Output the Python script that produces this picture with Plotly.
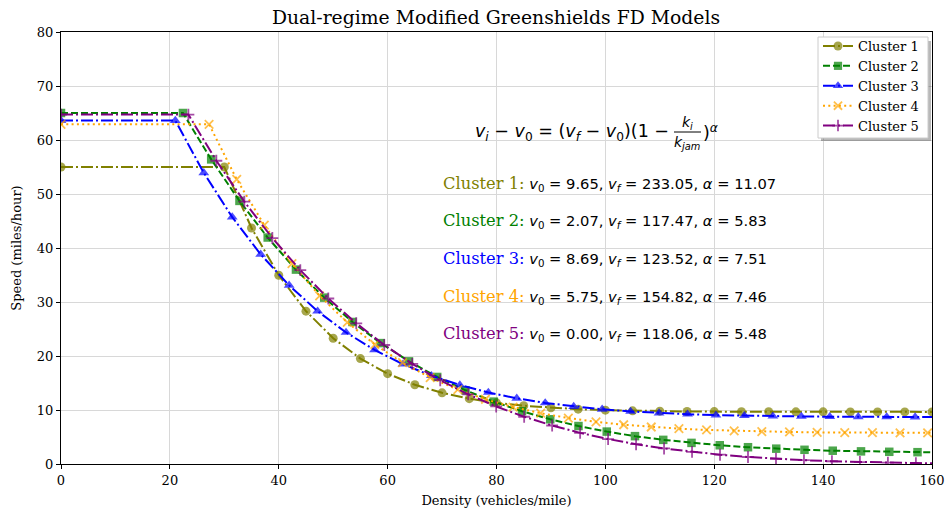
import plotly.graph_objects as go

# ---------------- data ----------------
cluster_names = ["Cluster 1", "Cluster 2", "Cluster 3", "Cluster 4", "Cluster 5"]

c1_density = [0, 30, 35, 40, 45, 50, 55, 60, 65, 70, 75, 80, 85, 90, 95, 100,
              105, 110, 115, 120, 125, 130, 135, 140, 145, 150, 155, 160]
c1_speed = [55.0, 55.0, 43.70, 34.96, 28.31, 23.29, 19.52, 16.73, 14.67, 13.18, 12.10,
            11.33, 10.79, 10.41, 10.15, 9.97, 9.85, 9.78, 9.73, 9.70, 9.68, 9.67,
            9.66, 9.66, 9.65, 9.65, 9.65, 9.65]

c2_density = [0, 22.4, 27.59, 32.78, 37.97, 43.16, 48.35, 53.54, 58.73, 63.92, 69.11,
              74.30, 79.49, 84.68, 89.87, 95.06, 100.25, 105.44, 110.63, 115.82, 121.01,
              126.20, 131.39, 136.58, 141.77, 146.96, 152.15, 157.34, 160]
c2_speed = [65.0, 65.0, 56.41, 48.72, 41.94, 36.00, 30.81, 26.30, 22.39, 19.01, 16.12,
            13.65, 11.55, 9.77, 8.28, 7.03, 6.00, 5.16, 4.47, 3.91, 3.47, 3.11, 2.84,
            2.63, 2.46, 2.34, 2.26, 2.19, 2.17]

c3_density = [0, 21.0, 26.23, 31.45, 36.68, 41.91, 47.14, 52.36, 57.59, 62.82, 68.04,
              73.27, 78.50, 83.72, 88.95, 94.18, 99.41, 104.63, 109.86, 115.09, 120.31,
              125.54, 130.77, 136.00, 141.22, 146.45, 151.68, 156.90, 160]
c3_speed = [63.6, 63.6, 53.92, 45.72, 38.82, 33.08, 28.30, 24.36, 21.13, 18.49, 16.35,
            14.63, 13.25, 12.16, 11.30, 10.64, 10.12, 9.73, 9.44, 9.22, 9.05, 8.94, 8.86,
            8.80, 8.76, 8.73, 8.71, 8.70, 8.70]

c4_density = [0, 27.2, 32.28, 37.35, 42.43, 47.51, 52.59, 57.66, 62.74, 67.82, 72.89,
              77.97, 83.05, 88.12, 93.20, 98.28, 103.36, 108.43, 113.51, 118.59, 123.66,
              128.74, 133.82, 138.90, 143.97, 149.05, 154.13, 159.20, 160]
c4_speed = [62.9, 62.9, 52.70, 44.24, 37.12, 31.15, 26.21, 22.13, 18.76, 16.01, 13.78,
            11.99, 10.55, 9.41, 8.51, 7.81, 7.27, 6.85, 6.54, 6.31, 6.14, 6.01, 5.93,
            5.86, 5.82, 5.80, 5.78, 5.77, 5.77]

c5_density = [0, 23.4, 28.54, 33.68, 38.82, 43.96, 49.10, 54.24, 59.38, 64.52, 69.66,
              74.80, 79.94, 85.08, 90.22, 95.36, 100.50, 105.64, 110.78, 115.92, 121.06,
              126.20, 131.34, 136.48, 141.62, 146.76, 151.90, 157.04, 160]
c5_speed = [64.7, 64.7, 56.16, 48.57, 41.84, 35.90, 30.65, 26.06, 22.04, 18.55, 15.52,
            12.91, 10.66, 8.75, 7.13, 5.76, 4.62, 3.67, 2.88, 2.24, 1.72, 1.30, 0.97,
            0.71, 0.51, 0.36, 0.25, 0.17, 0.13]

param_v0 = ["9.65", "2.07", "8.69", "5.75", "0.00"]
param_vf = ["233.05", "117.47", "123.52", "154.82", "118.06"]
param_alpha = ["11.07", "5.83", "7.51", "7.46", "5.48"]

x_ticks = [0, 20, 40, 60, 80, 100, 120, 140, 160]
y_ticks = [0, 10, 20, 30, 40, 50, 60, 70, 80]

# ---------------- styling ----------------
colors = ["#808000", "#008000", "#0000FF", "#FFA500", "#800080"]
dashes = ["12px,3px,2px,3px", "7px,3px", "12px,3px,2px,3px", "2px,3.3px", "12px,3px,2px,3px"]
symbols = ["circle", "square", "triangle-up", "x-thin-open", "cross-thin-open"]
msizes = [9, 8.5, 9.5, 8.5, 8.5]
# clusters whose final point (at 160) is only a line end, not a marker
unmarked_end = [False, True, True, True, True]

densities = [c1_density, c2_density, c3_density, c4_density, c5_density]
speeds = [c1_speed, c2_speed, c3_speed, c4_speed, c5_speed]

W, H = 949, 514
L, R, T, B = 61, 17, 32, 50
pw, ph = W - L - R, H - T - B


def px(xw):  # window pixel -> paper x
    return (xw - L) / pw


def py(yw):  # window pixel -> paper y
    return (H - B - yw) / ph


fig = go.Figure()
for i in range(5):
    n = len(densities[i])
    sizes = [msizes[i]] * n
    if unmarked_end[i]:
        sizes[-1] = 0
    thin = symbols[i].endswith("thin-open")
    fig.add_trace(go.Scatter(
        x=densities[i], y=speeds[i], name=cluster_names[i],
        mode="lines+markers",
        line=dict(color=colors[i], width=2, dash=dashes[i]),
        marker=dict(symbol=symbols[i], size=sizes, color=colors[i],
                    line=dict(color=colors[i], width=1.8 if thin else 0)),
    ))

serif = "DejaVu Serif"
sans = "DejaVu Sans"

fig.update_layout(
    width=W, height=H,
    margin=dict(l=L, r=R, t=T, b=B, autoexpand=False),
    paper_bgcolor="white", plot_bgcolor="white",
    title=dict(text="Dual-regime Modified Greenshields FD Models",
               font=dict(family=serif, size=18.8, color="black"),
               x=px(496), xref="paper", xanchor="center",
               y=1 - 17 / H, yref="container", yanchor="middle"),
    xaxis=dict(range=[0, 160], tickvals=x_ticks, ticktext=[str(v) for v in x_ticks],
               showgrid=True, gridcolor="#d8d8d8", gridwidth=1,
               showline=True, linecolor="black", linewidth=1, mirror=True,
               ticks="outside", ticklen=4, tickcolor="black",
               tickfont=dict(family=serif, size=13, color="black"),
               title=dict(text="Density (vehicles/mile)", standoff=9,
                          font=dict(family=serif, size=13, color="black")),
               zeroline=False, automargin=False),
    yaxis=dict(range=[0, 80], tickvals=y_ticks, ticktext=[str(v) for v in y_ticks],
               showgrid=True, gridcolor="#d8d8d8", gridwidth=1,
               showline=True, linecolor="black", linewidth=1, mirror=True,
               ticks="outside", ticklen=4, tickcolor="black",
               tickfont=dict(family=serif, size=13, color="black"),
               title=dict(text="Speed (miles/hour)", standoff=12,
                          font=dict(family=serif, size=13, color="black")),
               zeroline=False, automargin=False),
    legend=dict(x=px(818), xanchor="left", y=py(31), yanchor="top",
                bgcolor="rgba(0,0,0,0)", borderwidth=0,
                font=dict(family=serif, size=13, color="black"),
                itemwidth=30, tracegroupgap=0),
    showlegend=True,
)

# legend frame with a soft shadow (drawn as shapes under the legend entries)
fig.add_shape(type="rect", xref="paper", yref="paper", layer="above",
              x0=px(821), x1=px(931), y0=py(41), y1=py(141),
              line=dict(width=0), fillcolor="rgba(0,0,0,0.28)")
fig.add_shape(type="rect", xref="paper", yref="paper", layer="above",
              x0=px(818), x1=px(928), y0=py(37), y1=py(138),
              line=dict(color="#cccccc", width=1), fillcolor="white")

# equation
eq_font = dict(family=sans, size=17.5, color="black")
fig.add_annotation(xref="paper", yref="paper", x=px(671), y=py(132),
                   xanchor="right", yanchor="middle", showarrow=False,
                   text="<i>v<sub>i</sub></i> − <i>v</i><sub>0</sub> = (<i>v<sub>f</sub></i> − <i>v</i><sub>0</sub>)(1 −",
                   font=eq_font)
fig.add_annotation(xref="paper", yref="paper", x=px(687), y=py(123),
                   xanchor="center", yanchor="middle", showarrow=False,
                   text="<i>k<sub>i</sub></i>", font=dict(family=sans, size=14, color="black"))
fig.add_annotation(xref="paper", yref="paper", x=px(687), y=py(143),
                   xanchor="center", yanchor="middle", showarrow=False,
                   text="<i>k<sub>jam</sub></i>", font=dict(family=sans, size=14, color="black"))
fig.add_shape(type="line", xref="paper", yref="paper",
              x0=px(674), x1=px(701), y0=py(132), y1=py(132),
              line=dict(color="black", width=1))
fig.add_annotation(xref="paper", yref="paper", x=px(701), y=py(132),
                   xanchor="left", yanchor="middle", showarrow=False,
                   text=")<sup><i>α</i></sup>", font=eq_font)

# cluster parameter lines
row_y = [184, 221, 259, 297, 334]
for i in range(5):
    txt = (f'<span style="font-family:{serif};font-size:16.3px;color:{colors[i]}">'
           f'{cluster_names[i]}:</span> '
           f'<i>v</i><sub>0</sub> = {param_v0[i]}, <i>v<sub>f</sub></i> = {param_vf[i]}, '
           f'<i>α</i> = {param_alpha[i]}')
    fig.add_annotation(xref="paper", yref="paper", x=px(441), y=py(row_y[i]),
                       xanchor="left", yanchor="middle", showarrow=False,
                       text=txt, font=dict(family=sans, size=14.7, color="black"))

fig.write_html(
    "out.html",
    config={"displayModeBar": False},
    post_script="document.body.style.margin='0';document.body.style.overflow='hidden';",
)
